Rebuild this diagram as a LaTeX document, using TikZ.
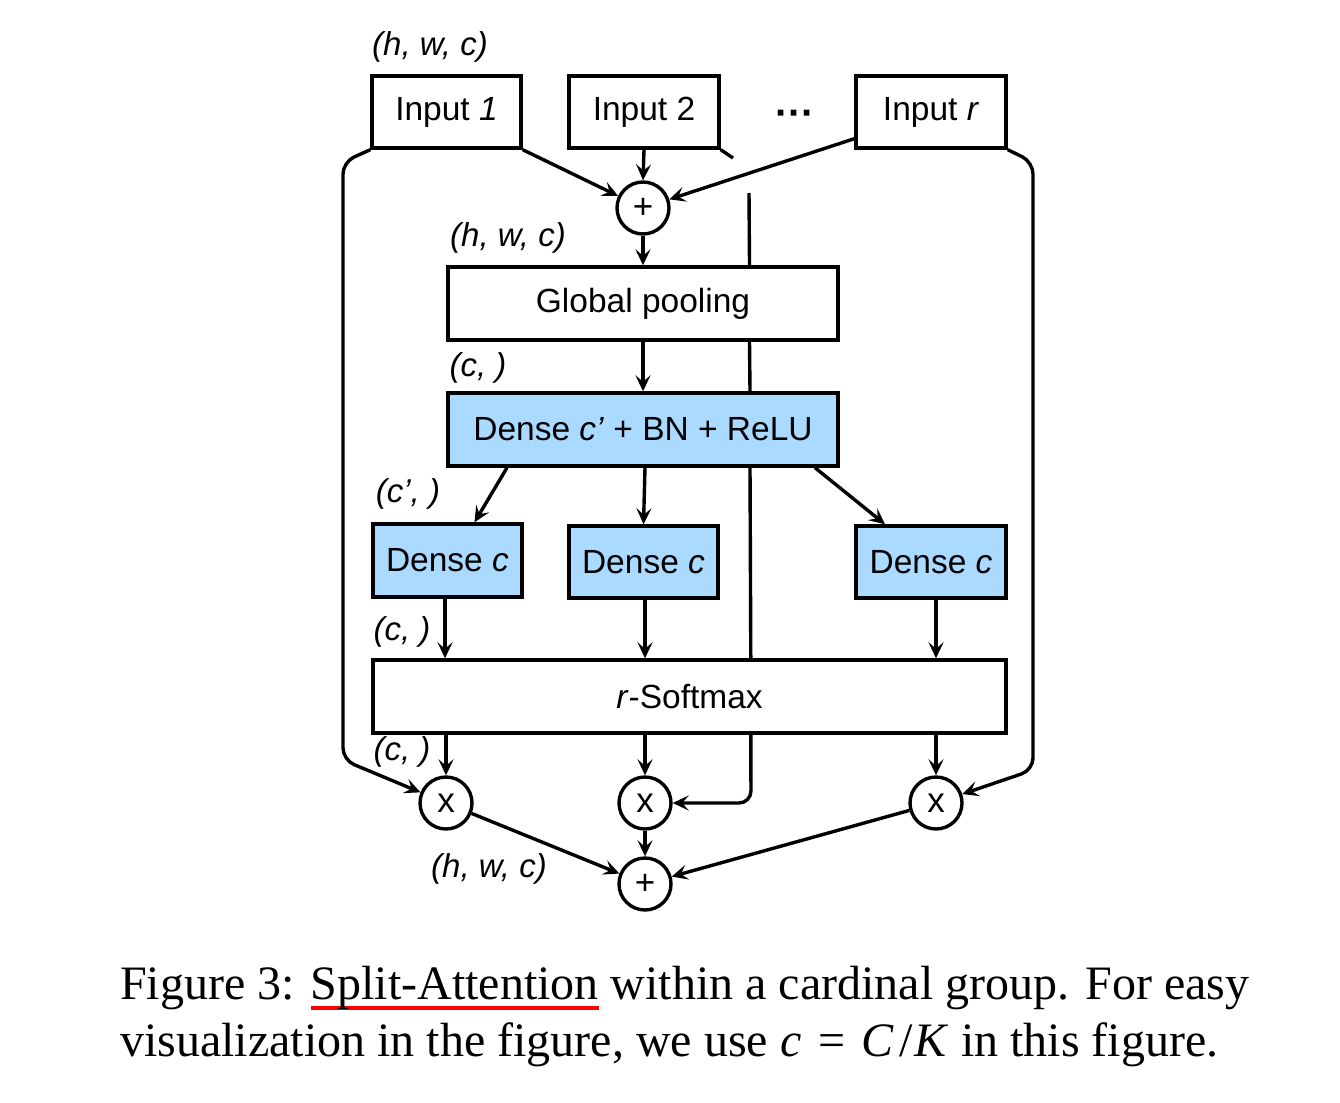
\documentclass[tikz,border=0pt]{standalone}
\usepackage{fontspec}
\setmainfont{Liberation Sans}
\newfontfamily\capfont{Liberation Serif}
\usetikzlibrary{arrows.meta}
\definecolor{lblue}{RGB}{170,218,255}
\newsavebox{\ulbox}
\newcommand\redul[1]{\sbox{\ulbox}{#1}\rlap{\textcolor{red}{\rule[-11pt]{\wd\ulbox}{4pt}}}\usebox{\ulbox}}
\tikzset{
  lw/.style={line width=3.4pt},
  arr/.style={lw,-{Stealth[length=16pt,width=15pt,inset=6.5pt]}},
  plain/.style={lw},
  box/.style={draw,lw,fill=white,inner sep=0pt,font=\fontsize{33.5}{38}\selectfont},
  bbox/.style={box,fill=lblue},
  op/.style={draw,lw,fill=white,circle,minimum size=52pt,inner sep=0pt,font=\fontsize{35}{36}\selectfont},
  lab/.style={font=\fontsize{33}{36}\selectfont\itshape,inner sep=0pt},
  captext/.style={anchor=base west,inner sep=0pt,font=\capfont\fontsize{48}{58}\selectfont}
}
\begin{document}
\begin{tikzpicture}[x=1pt,y=-1pt]
\useasboundingbox (0,0) rectangle (1340,1102);
% boxes
\node[box,minimum width=149pt,minimum height=72pt] (in1) at (446.5,112) {Input \textit{1}};
\node[box,minimum width=150pt,minimum height=72pt] (in2) at (644,112) {Input 2};
\node[box,minimum width=150pt,minimum height=72pt] (inr) at (931,112) {Input \textit{r}};
\node[inner sep=0pt,font=\fontsize{40}{40}\selectfont\bfseries] (dots) at (795,118) {···};
\node[op] (p1) at (643,208) {+};
\node[box,minimum width=390pt,minimum height=73pt] (gp) at (643,303.5) {Global pooling};
\node[bbox,minimum width=390pt,minimum height=73pt] (dn) at (643,429.5) {Dense \textit{c’} + BN + ReLU};
\node[bbox,minimum width=149pt,minimum height=73pt] (d1) at (447.5,560.5) {Dense \textit{c}};
\node[bbox,minimum width=149pt,minimum height=72pt] (d2) at (643.5,562) {Dense \textit{c}};
\node[bbox,minimum width=150pt,minimum height=72pt] (d3) at (931,562) {Dense \textit{c}};
\node[box,minimum width=633pt,minimum height=73pt] (sm) at (689.5,696.5) {\textit{r}-Softmax};
\node[op] (x1) at (446,803) {x};
\node[op] (x2) at (645,803) {x};
\node[op] (x3) at (936,803) {x};
\node[op] (p2) at (645,884) {+};
% labels
\node[lab] (l1) at (430,47) {(h, w, c)};
\node[lab] (l2) at (508,238) {(h, w, c)};
\node[lab] (l3) at (478,368) {(c, )};
\node[lab] (l4) at (408,494) {(c’, )};
\node[lab] (l5) at (402,632) {(c, )};
\node[lab] (l6) at (402,752) {(c, )};
\node[lab] (l7) at (489,869) {(h, w, c)};
% coordinates
\coordinate (stub) at (733,158);
\coordinate (vtop) at (749,193);
\coordinate (vbot) at (751,803);
\coordinate (lc1) at (343,162);
\coordinate (lc2) at (343,760);
\coordinate (rc1) at (1033,162);
\coordinate (rc2) at (1033,770);
% line passing behind boxes (drawn in visible pieces)
\draw[plain] (vtop) -- ([xshift=0.5pt]vtop |- gp.north);
\draw[plain] ([xshift=0.5pt]vtop |- gp.south) -- ([xshift=1pt]vtop |- dn.north);
\draw[plain] ([xshift=1pt]vtop |- dn.south) -- ([xshift=1.8pt]vtop |- sm.north);
\draw[arr,rounded corners=12pt] ([xshift=1.8pt]vtop |- sm.south) -- (vbot) -- (x2.east);
% connectors
\draw[arr] (in1.south east) -- (p1);
\draw[arr] (in2.south) -- (p1.north);
\draw[arr] ([yshift=11pt]inr.south west) -- (p1);
\draw[plain] (in2.south east) -- (stub);
\draw[arr] (p1.south) -- (gp.north);
\draw[arr] (gp.south) -- (dn.north);
\draw[arr] ([xshift=-136pt]dn.south) -- ([xshift=27pt]d1.north);
\draw[arr] ([xshift=2pt]dn.south) -- (d2.north);
\draw[arr] ([xshift=172pt]dn.south) -- ([xshift=-46pt]d3.north);
\draw[arr] ([xshift=-2.5pt]d1.south) -- ([xshift=-244.5pt]sm.north);
\draw[arr] ([xshift=1.5pt]d2.south) -- ([xshift=-44.5pt]sm.north);
\draw[arr] ([xshift=5pt]d3.south) -- ([xshift=246.5pt]sm.north);
\draw[arr] (sm.south -| x1) -- (x1.north);
\draw[arr] (sm.south -| x2) -- (x2.north);
\draw[arr] (sm.south -| x3) -- (x3.north);
\draw[arr,rounded corners=12pt] (in1.south west) -- (lc1) -- (lc2) -- (x1);
\draw[arr,rounded corners=12pt] (inr.south east) -- (rc1) -- (rc2) -- (x3);
\draw[arr] (x1) -- (p2);
\draw[arr] (x2) -- (p2);
\draw[arr] (x3) -- (p2);
% caption
\node[captext] (cap1) at (120,999)
  {Figure 3: \redul{Split-Attention} within a cardinal group. For easy};
\node[captext] (cap2) at (120,1056)
  {visualization in the figure, we use \textit{c}\hspace{0.35em}=\hspace{0.35em}\textit{C}\kern0.1em/\kern0.05em\textit{K} in this figure.};
\end{tikzpicture}
\end{document}
